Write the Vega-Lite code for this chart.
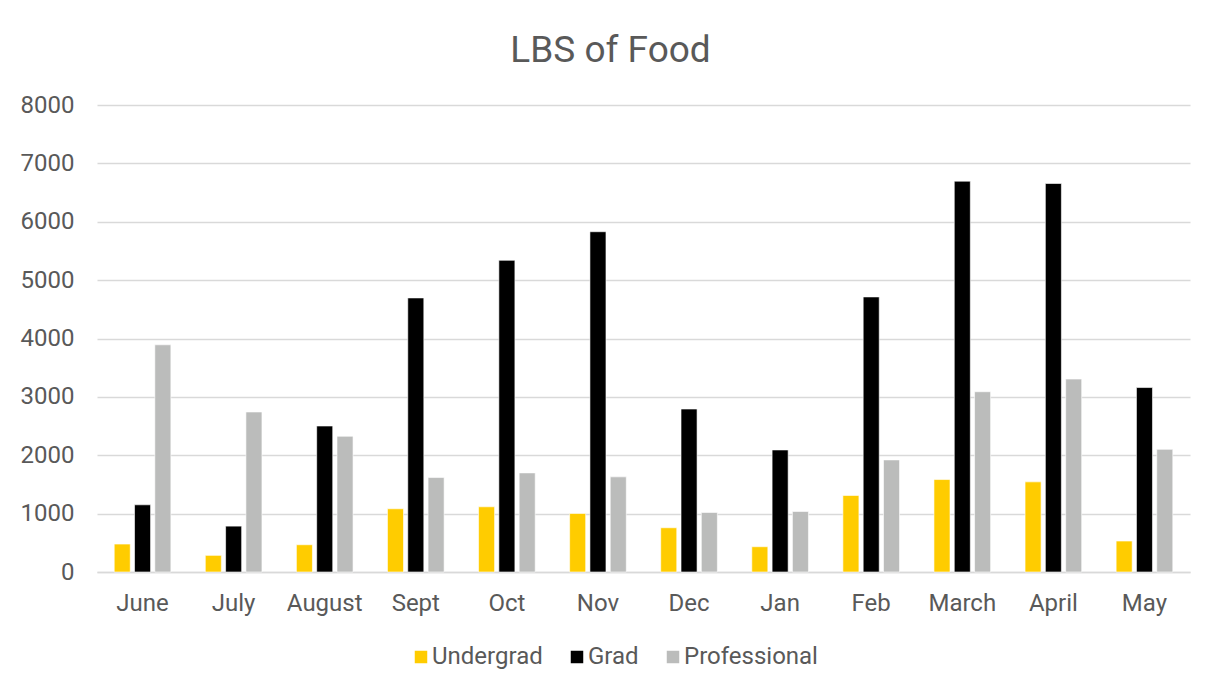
{
  "$schema": "https://vega.github.io/schema/vega-lite/v6.json",
  "autosize": {"type": "none"},
  "width": 1093,
  "height": 467,
  "padding": {"left": 97, "top": 105, "right": 22, "bottom": 118},
  "background": "#ffffff",
  "title": {
    "text": "LBS of Food",
    "font": "Roboto",
    "fontSize": 37,
    "fontWeight": "normal",
    "color": "#595959",
    "anchor": "middle",
    "frame": "group",
    "baseline": "alphabetic",
    "dx": -33,
    "offset": -6
  },
  "config": {
    "view": {"stroke": null},
    "font": "Roboto"
  },
  "data": {
    "values": [
      {"month": "June", "group": "Undergrad", "lbs": 479},
      {"month": "June", "group": "Grad", "lbs": 1151},
      {"month": "June", "group": "Professional", "lbs": 3892},
      {"month": "July", "group": "Undergrad", "lbs": 285},
      {"month": "July", "group": "Grad", "lbs": 786},
      {"month": "July", "group": "Professional", "lbs": 2741},
      {"month": "August", "group": "Undergrad", "lbs": 467},
      {"month": "August", "group": "Grad", "lbs": 2501},
      {"month": "August", "group": "Professional", "lbs": 2325},
      {"month": "Sept", "group": "Undergrad", "lbs": 1083},
      {"month": "Sept", "group": "Grad", "lbs": 4695},
      {"month": "Sept", "group": "Professional", "lbs": 1618},
      {"month": "Oct", "group": "Undergrad", "lbs": 1117},
      {"month": "Oct", "group": "Grad", "lbs": 5339},
      {"month": "Oct", "group": "Professional", "lbs": 1698},
      {"month": "Nov", "group": "Undergrad", "lbs": 1003},
      {"month": "Nov", "group": "Grad", "lbs": 5829},
      {"month": "Nov", "group": "Professional", "lbs": 1630},
      {"month": "Dec", "group": "Undergrad", "lbs": 758},
      {"month": "Dec", "group": "Grad", "lbs": 2792},
      {"month": "Dec", "group": "Professional", "lbs": 1020},
      {"month": "Jan", "group": "Undergrad", "lbs": 433},
      {"month": "Jan", "group": "Grad", "lbs": 2091},
      {"month": "Jan", "group": "Professional", "lbs": 1037},
      {"month": "Feb", "group": "Undergrad", "lbs": 1311},
      {"month": "Feb", "group": "Grad", "lbs": 4712},
      {"month": "Feb", "group": "Professional", "lbs": 1920},
      {"month": "March", "group": "Undergrad", "lbs": 1584},
      {"month": "March", "group": "Grad", "lbs": 6695},
      {"month": "March", "group": "Professional", "lbs": 3088},
      {"month": "April", "group": "Undergrad", "lbs": 1544},
      {"month": "April", "group": "Grad", "lbs": 6655},
      {"month": "April", "group": "Professional", "lbs": 3305},
      {"month": "May", "group": "Undergrad", "lbs": 530},
      {"month": "May", "group": "Grad", "lbs": 3160},
      {"month": "May", "group": "Professional", "lbs": 2101}
    ]
  },
  "mark": {"type": "bar", "stroke": "#ffffff", "strokeWidth": 0.6},
  "encoding": {
    "x": {
      "field": "month",
      "type": "nominal",
      "sort": ["June", "July", "August", "Sept", "Oct", "Nov", "Dec", "Jan", "Feb", "March", "April", "May"],
      "scale": {"paddingInner": 0.378, "paddingOuter": 0.189},
      "axis": {
        "title": null,
        "labelAngle": 0,
        "labelFont": "Roboto",
        "labelFontSize": 24,
        "labelColor": "#595959",
        "labelPadding": 19,
        "ticks": false,
        "domain": true,
        "domainColor": "#D9D9D9",
        "domainWidth": 1.5,
        "grid": false
      }
    },
    "xOffset": {
      "field": "group",
      "type": "nominal",
      "sort": ["Undergrad", "Grad", "Professional"],
      "scale": {"paddingInner": 0.21, "paddingOuter": 0}
    },
    "y": {
      "field": "lbs",
      "type": "quantitative",
      "scale": {"domain": [0, 8000], "nice": false},
      "axis": {
        "title": null,
        "values": [0, 1000, 2000, 3000, 4000, 5000, 6000, 7000, 8000],
        "format": "d",
        "labelFont": "Roboto",
        "labelFontSize": 24,
        "labelColor": "#595959",
        "labelPadding": 23,
        "ticks": false,
        "domain": false,
        "grid": true,
        "gridColor": "#D9D9D9",
        "gridWidth": 1.5
      }
    },
    "color": {
      "field": "group",
      "type": "nominal",
      "scale": {
        "domain": ["Undergrad", "Grad", "Professional"],
        "range": ["#FFCC00", "#000000", "#BBBCBB"]
      },
      "legend": {
        "title": null,
        "orient": "none",
        "direction": "horizontal",
        "legendX": 312,
        "legendY": 540,
        "padding": 0,
        "symbolType": "square",
        "symbolSize": 156,
        "symbolStrokeWidth": 0,
        "labelFont": "Roboto",
        "labelFontSize": 24,
        "labelColor": "#595959",
        "labelOffset": -1,
        "columnPadding": 22,
        "labelLimit": 300
      }
    }
  }
}
